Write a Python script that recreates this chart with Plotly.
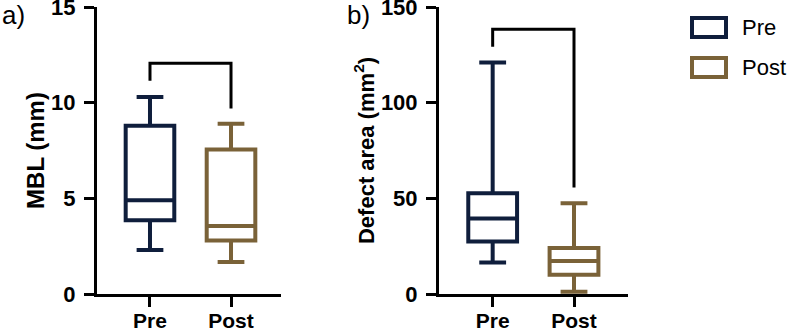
import plotly.graph_objects as go

# ---- data ----
groups = ["Pre", "Post"]
colors = ["#0f1e3c", "#7a6238"]

mbl_q1 = [3.85, 2.8]
mbl_median = [4.9, 3.55]
mbl_q3 = [8.8, 7.55]
mbl_low = [2.3, 1.67]
mbl_high = [10.3, 8.9]

area_q1 = [27.4, 10.0]
area_median = [39.5, 17.3]
area_q3 = [52.6, 24.0]
area_low = [16.5, 1.2]
area_high = [121.0, 47.4]

bracket_a = [11.15, 12.06, 9.7]    # left leg end, bar, right leg end
bracket_b = [129.2, 138.4, 55.7]

W, H = 787, 330
FONT = "Liberation Sans, Arial, sans-serif"

fig = go.Figure()


def add_boxes(q1, med, q3, low, high, xa, ya):
    for i, g in enumerate(groups):
        fig.add_trace(go.Box(
            x=[i], q1=[q1[i]], median=[med[i]], q3=[q3[i]],
            lowerfence=[low[i]], upperfence=[high[i]],
            name=g, width=0.6, whiskerwidth=0.55,
            line=dict(color=colors[i], width=4),
            fillcolor="rgba(255,255,255,0)",
            boxpoints=False, showlegend=False,
            xaxis=xa, yaxis=ya, hoverinfo="skip",
        ))


add_boxes(mbl_q1, mbl_median, mbl_q3, mbl_low, mbl_high, "x", "y")
add_boxes(area_q1, area_median, area_q3, area_low, area_high, "x2", "y2")

ydom = [36 / H, 1 - 7 / H]
axis_common = dict(
    showline=True, linecolor="black", linewidth=3,
    ticks="outside", ticklen=10, tickwidth=3, tickcolor="black",
    showgrid=False, zeroline=False, ticklabeloverflow="allow",
)
xfont = dict(family=FONT, size=21, color="black", weight="bold")
yfont = dict(family=FONT, size=22, color="black", weight="bold")

fig.update_layout(
    width=W, height=H,
    margin=dict(l=0, r=0, t=0, b=0, autoexpand=False),
    paper_bgcolor="white", plot_bgcolor="white",
    boxmode="overlay",
    showlegend=False,
    xaxis=dict(domain=[97 / W, 281 / W], range=[-0.654, 1.617],
               tickvals=[0, 1], ticktext=groups, tickfont=xfont,
               ticklabelstandoff=-4, anchor="y", **axis_common),
    yaxis=dict(domain=ydom, range=[0, 15], tickvals=[0, 5, 10, 15],
               tickfont=yfont, anchor="x",
               title=dict(text="MBL (mm)", standoff=0,
                          font=dict(family=FONT, size=24, color="black", weight="bold")),
               ticklabelstandoff=4, **axis_common),
    xaxis2=dict(domain=[439 / W, 628 / W], range=[-0.66, 1.664],
                tickvals=[0, 1], ticktext=groups, tickfont=xfont,
                ticklabelstandoff=-4, anchor="y2", **axis_common),
    yaxis2=dict(domain=ydom, range=[0, 150], tickvals=[0, 50, 100, 150],
                tickfont=yfont, anchor="x2",
                title=dict(text="Defect area (mm<sup>2</sup>)", standoff=1,
                           font=dict(family=FONT, size=22, color="black", weight="bold")),
                ticklabelstandoff=4, **axis_common),
)

# significance brackets
for xr, yr, b in [("x", "y", bracket_a), ("x2", "y2", bracket_b)]:
    fig.add_shape(type="path", xref=xr, yref=yr,
                  path=f"M 0,{b[0]} L 0,{b[1]} L 1,{b[1]} L 1,{b[2]}",
                  line=dict(color="black", width=3))

# panel labels
fig.add_annotation(text="a)", x=0, y=1 + 2 / H, xref="paper", yref="paper",
                   xanchor="left", yanchor="top", showarrow=False,
                   font=dict(family=FONT, size=26, color="black"))
fig.add_annotation(text="b)", x=345 / W, y=1 + 2 / H, xref="paper", yref="paper",
                   xanchor="left", yanchor="top", showarrow=False,
                   font=dict(family=FONT, size=26, color="black"))

# legend
leg_y = [27.5, 67.5]
for i, g in enumerate(groups):
    yc = leg_y[i]
    fig.add_shape(type="rect", xref="paper", yref="paper",
                  x0=692 / W, x1=726 / W,
                  y0=1 - (yc - 9.5) / H, y1=1 - (yc + 9.5) / H,
                  line=dict(color=colors[i], width=4), fillcolor="white")
    fig.add_annotation(text=g, x=740 / W, y=1 - yc / H, xref="paper", yref="paper",
                       xanchor="left", yanchor="middle", showarrow=False,
                       font=dict(family=FONT, size=22, color="black"))

fig.write_html("out.html", config={"displayModeBar": False},
               post_script="document.body.style.margin='0';")
